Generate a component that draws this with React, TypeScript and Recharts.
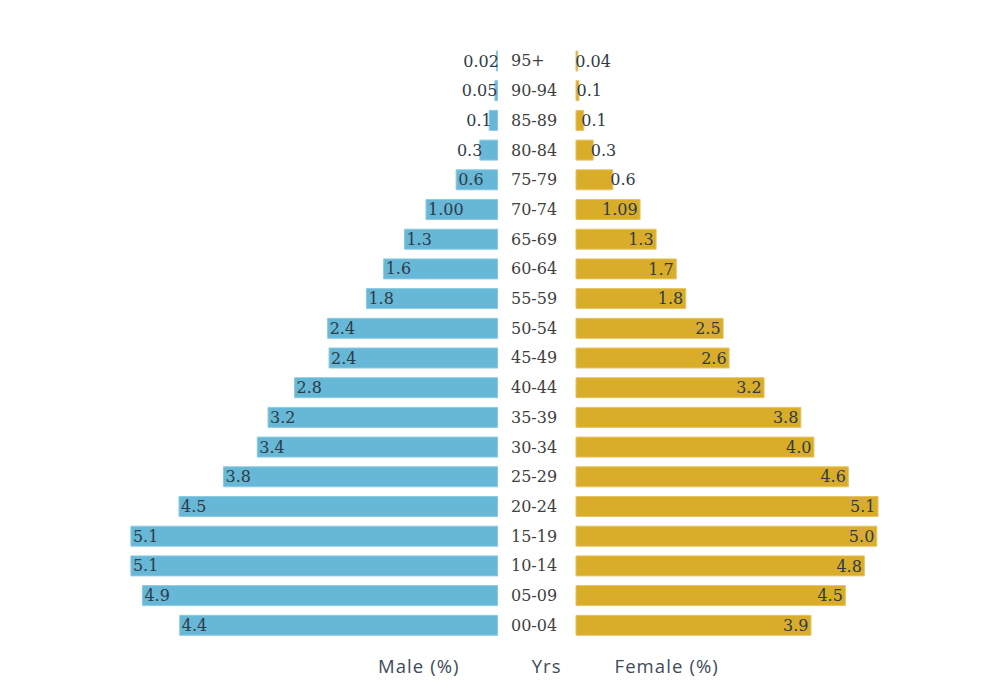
import React from "react";
import { BarChart, Bar, XAxis, YAxis, LabelList } from "recharts";

const ageGroups = ["95+", "90-94", "85-89", "80-84", "75-79", "70-74", "65-69", "60-64", "55-59", "50-54", "45-49", "40-44", "35-39", "30-34", "25-29", "20-24", "15-19", "10-14", "05-09", "00-04"];
const maleValues = [0.02, 0.04, 0.12, 0.25, 0.58, 1.0, 1.3, 1.59, 1.83, 2.37, 2.35, 2.83, 3.2, 3.35, 3.82, 4.44, 5.11, 5.11, 4.95, 4.43];
const femaleValues = [0.03, 0.05, 0.13, 0.29, 0.62, 1.08, 1.35, 1.69, 1.85, 2.48, 2.58, 3.17, 3.79, 4.01, 4.59, 5.09, 5.07, 4.86, 4.54, 3.96];
const maleLabels = ["0.02", "0.05", "0.1", "0.3", "0.6", "1.00", "1.3", "1.6", "1.8", "2.4", "2.4", "2.8", "3.2", "3.4", "3.8", "4.5", "5.1", "5.1", "4.9", "4.4"];
const femaleLabels = ["0.04", "0.1", "0.1", "0.3", "0.6", "1.09", "1.3", "1.7", "1.8", "2.5", "2.6", "3.2", "3.8", "4.0", "4.6", "5.1", "5.0", "4.8", "4.5", "3.9"];
const axisTitles = ["Male (%)", "Yrs", "Female (%)"];

const maleData = ageGroups.map((age, i) => ({ age, value: maleValues[i], label: maleLabels[i] }));
const femaleData = ageGroups.map((age, i) => ({ age, value: femaleValues[i], label: femaleLabels[i] }));

const SERIF = "'DejaVu Serif', serif";
const FS = 16;
const VALUE_COLOR = "#2f3b48";

function textWidth(s: string) {
  let w = 0;
  for (const c of s) w += c === "." ? 0.318 : 0.636;
  return w * FS;
}

function makeLabel(side: "male" | "female", labels: string[]) {
  return (props: any) => {
    const { x, y, width, height, index } = props;
    const left = Math.min(Number(x), Number(x) + Number(width));
    const right = Math.max(Number(x), Number(x) + Number(width));
    const bw = right - left;
    const txt = labels[index];
    const tw = textWidth(txt);
    const inside = bw > tw + 12;
    const cy = Number(y) + Number(height) / 2;
    let tx: number;
    let anchor: "start" | "end";
    if (side === "male") {
      if (inside) { tx = left + 2; anchor = "start"; } else { tx = left + 2.5; anchor = "end"; }
    } else {
      if (inside) { tx = right - 2.5; anchor = "end"; } else { tx = right - 2.5; anchor = "start"; }
    }
    return (
      <text x={tx} y={cy} dy="0.35em" textAnchor={anchor} fontFamily={SERIF} fontSize={FS} fill={VALUE_COLOR}>
        {txt}
      </text>
    );
  };
}

const AgeTick = (props: any) => {
  const { y, payload } = props;
  return (
    <text x={0} y={y} dy="0.35em" textAnchor="start" fontFamily={SERIF} fontSize={FS} fill="#3f3f3f">
      {payload.value}
    </text>
  );
};

const TOP = 46.4;
const H = 594;

export default function App() {
  return (
    <div style={{ position: "absolute", left: 0, top: 0, width: 1000, height: 700, background: "#ffffff" }}>
      <div style={{ position: "absolute", left: 67, top: TOP }}>
        <BarChart width={430.8} height={H} data={maleData} layout="vertical" margin={{ top: 0, right: 0, bottom: 0, left: 0 }}>
          <XAxis type="number" domain={[0, 6]} reversed hide />
          <YAxis type="category" dataKey="age" hide />
          <Bar dataKey="value" fill="#66b8d6" stroke="#8ccbe2" strokeWidth={1} barSize={20} isAnimationActive={false}>
            <LabelList dataKey="label" content={makeLabel("male", maleLabels)} />
          </Bar>
        </BarChart>
      </div>
      <div style={{ position: "absolute", left: 511, top: TOP }}>
        <BarChart width={65 + 356} height={H} data={femaleData} layout="vertical" margin={{ top: 0, right: 0, bottom: 0, left: 0 }}>
          <XAxis type="number" domain={[0, 6]} hide />
          <YAxis type="category" dataKey="age" width={65} axisLine={false} tickLine={false} tick={<AgeTick />} interval={0} />
          <Bar dataKey="value" fill="#d9ad29" stroke="#e6c463" strokeWidth={1} barSize={20} isAnimationActive={false}>
            <LabelList dataKey="label" content={makeLabel("female", femaleLabels)} />
          </Bar>
        </BarChart>
      </div>
      <svg width={1000} height={700} style={{ position: "absolute", left: 0, top: 0, pointerEvents: "none" }}>
        {[418.8, 546.7, 666.7].map((cx, i) => (
          <text key={axisTitles[i]} x={cx} y={666.5} dy="0.35em" textAnchor="middle" fontFamily="'Open Sans', sans-serif" fontSize={18.5} letterSpacing={1.1} fontWeight={500} fill="#3d4a5a">
            {axisTitles[i]}
          </text>
        ))}
      </svg>
    </div>
  );
}
